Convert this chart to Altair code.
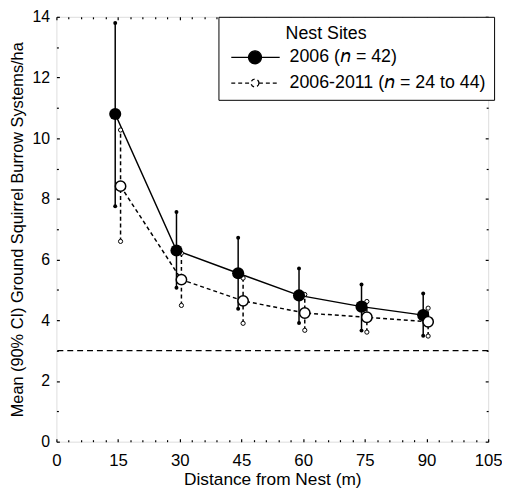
import altair as alt
import pandas as pd

# ---- data ----
x_2006 = [14.3, 29.2, 44.2, 59.0, 74.2, 89.2]
mean_2006 = [10.8, 6.3, 5.55, 4.82, 4.45, 4.17]
upper_2006 = [13.8, 7.57, 6.72, 5.71, 5.18, 4.88]
lower_2006 = [7.76, 5.07, 4.38, 3.91, 3.66, 3.49]

x_multi = [15.6, 30.4, 45.4, 60.4, 75.5, 90.4]
mean_multi = [8.42, 5.34, 4.64, 4.24, 4.10, 3.95]
upper_multi = [10.27, 6.21, 5.39, 4.85, 4.62, 4.40]
lower_multi = [6.60, 4.49, 3.90, 3.67, 3.61, 3.48]

reference_level = [3.0]

legend_title = "Nest Sites"
series_labels = ["2006 (\U0001D62F = 42)", "2006-2011 (\U0001D62F = 24 to 44)"]

x_major = [0, 15, 30, 45, 60, 75, 90, 105]
x_minor = [v for v in range(0, 106, 3) if v % 15 != 0]
y_major = [0, 2, 4, 6, 8, 10, 12, 14]
y_minor = [1, 3, 5, 7, 9, 11, 13]

FONT = "Liberation Sans"

df_a = pd.DataFrame({"x": x_2006, "m": mean_2006, "lo": lower_2006, "hi": upper_2006})
df_b = pd.DataFrame({"x": x_multi, "m": mean_multi, "lo": lower_multi, "hi": upper_multi})
df_ref = pd.DataFrame({"y": reference_level})
df_leg = pd.DataFrame({"series": series_labels})

xs = alt.Scale(domain=[0, 105], nice=False, zero=False)
ys = alt.Scale(domain=[0, 14], nice=False, zero=False)


def tick_axis(orient, values, size, labels=False, **kw):
    return alt.Axis(orient=orient, values=values, tickSize=size, offset=-size,
                    domain=False, grid=False, labels=labels, tickColor="black",
                    tickWidth=1.2, **kw)


common_lab = dict(labelFont=FONT, labelColor="black", titleFont=FONT, titleColor="black",
                  titleFontWeight="normal", labelFlush=False, labelOverlap=False)

ax_x_main = tick_axis("bottom", x_major, 3, labels=True, labelPadding=11, labelFontSize=17,
                      title="Distance from Nest (m)", titleFontSize=17.5, titlePadding=2,
                      **common_lab)
ax_x_minor = tick_axis("bottom", x_minor, 2, title=None)
ax_x_top = tick_axis("top", x_major, 3, title=None)
ax_x_top_minor = tick_axis("top", x_minor, 2, title=None)

ax_y_main = tick_axis("left", y_major, 3, labels=True, labelPadding=7, labelFontSize=16,
                      title="Mean (90% CI) Ground Squirrel Burrow Systems/ha",
                      titleFontSize=16.5, titlePadding=7, **common_lab)
ax_y_minor = tick_axis("left", y_minor, 2, title=None)
ax_y_right = tick_axis("right", y_major, 3, title=None)
ax_y_right_minor = tick_axis("right", y_minor, 2, title=None)

DASH = [4, 3]

ref_line = alt.Chart(df_ref).mark_rule(color="black", strokeWidth=1.3, strokeDash=[6, 4]).encode(
    y=alt.Y("y:Q", scale=ys, axis=None)
)

err_a = alt.Chart(df_a).mark_rule(color="black", strokeWidth=1.5).encode(
    x=alt.X("x:Q", scale=xs, axis=None),
    y=alt.Y("lo:Q", scale=ys, axis=None), y2="hi:Q")
err_b = alt.Chart(df_b).mark_rule(color="black", strokeWidth=1.5, strokeDash=DASH).encode(
    x=alt.X("x:Q", scale=xs, axis=None),
    y=alt.Y("lo:Q", scale=ys, axis=None), y2="hi:Q")

cap_a_lo = alt.Chart(df_a).mark_point(filled=True, color="black", size=16, opacity=1).encode(
    x=alt.X("x:Q", scale=xs, axis=None), y=alt.Y("lo:Q", scale=ys, axis=None))
cap_a_hi = alt.Chart(df_a).mark_point(filled=True, color="black", size=16, opacity=1).encode(
    x=alt.X("x:Q", scale=xs, axis=None), y=alt.Y("hi:Q", scale=ys, axis=None))
cap_b_lo = alt.Chart(df_b).mark_point(filled=True, fill="white", stroke="black", strokeWidth=1,
                                      size=18, opacity=1).encode(
    x=alt.X("x:Q", scale=xs, axis=None), y=alt.Y("lo:Q", scale=ys, axis=None))
cap_b_hi = alt.Chart(df_b).mark_point(filled=True, fill="white", stroke="black", strokeWidth=1,
                                      size=18, opacity=1).encode(
    x=alt.X("x:Q", scale=xs, axis=None), y=alt.Y("hi:Q", scale=ys, axis=None))

line_a = alt.Chart(df_a).mark_line(color="black", strokeWidth=1.5).encode(
    x=alt.X("x:Q", scale=xs, axis=ax_x_main),
    y=alt.Y("m:Q", scale=ys, axis=ax_y_main))
line_b = alt.Chart(df_b).mark_line(color="black", strokeWidth=1.5, strokeDash=DASH).encode(
    x=alt.X("x:Q", scale=xs, axis=ax_x_minor),
    y=alt.Y("m:Q", scale=ys, axis=ax_y_minor))

pts_a = alt.Chart(df_a).mark_point(filled=True, color="black", size=150, opacity=1).encode(
    x=alt.X("x:Q", scale=xs, axis=ax_x_top),
    y=alt.Y("m:Q", scale=ys, axis=ax_y_right))
pts_b = alt.Chart(df_b).mark_point(filled=True, fill="white", stroke="black", strokeWidth=1.5,
                                   size=110, opacity=1).encode(
    x=alt.X("x:Q", scale=xs, axis=ax_x_top_minor),
    y=alt.Y("m:Q", scale=ys, axis=ax_y_right_minor))

# legend glyphs: line segment with a marker, unit = 10 px (symbolSize 400)
path_filled = "M-0.6,0H4.3M2.45,0A0.65,0.65,0,1,1,1.15,0A0.65,0.65,0,1,1,2.45,0Z"
path_open = "M-0.6,0H1.4M2.2,0H4.3M2.2,0A0.4,0.4,0,1,1,1.4,0A0.4,0.4,0,1,1,2.2,0Z"

leg = alt.Legend(orient="none", legendX=164, legendY=0, strokeColor="black",
                 fillColor="white", padding=8, cornerRadius=0, titleFontSize=18,
                 labelFontSize=18, titleFont=FONT, labelFont=FONT, titleFontWeight="normal",
                 titleColor="black", labelColor="black", symbolSize=400,
                 symbolStrokeWidth=1.3, rowPadding=5, titlePadding=4, labelOffset=42,
                 labelLimit=400)

title_text = "\u200b" + "\u00a0" * 12 + legend_title

legend_layer = alt.Chart(df_leg).transform_filter("false").mark_point(
    filled=False, strokeWidth=1.3, opacity=1).encode(
    shape=alt.Shape("series:N", title=title_text, legend=leg,
                    scale=alt.Scale(domain=series_labels, range=[path_filled, path_open])),
    fill=alt.Fill("series:N", title=title_text, legend=leg,
                  scale=alt.Scale(domain=series_labels, range=["black", "white"])),
    stroke=alt.Stroke("series:N", title=title_text, legend=leg,
                      scale=alt.Scale(domain=series_labels, range=["black", "black"])),
    strokeDash=alt.StrokeDash("series:N", title=title_text, legend=leg,
                              scale=alt.Scale(domain=series_labels, range=[[1, 0], [4, 3]])),
)

chart = alt.layer(
    ref_line, err_a, err_b, line_a, line_b, cap_a_lo, cap_a_hi, cap_b_lo, cap_b_hi,
    pts_a, pts_b, legend_layer
).resolve_axis(x="independent", y="independent").properties(
    width=437, height=430,
    autosize=alt.AutoSizeParams(type="none"),
    padding={"left": 49, "top": 6, "right": 14, "bottom": 48},
).configure_view(stroke="black", strokeWidth=1.5).configure(font=FONT, background="white")

chart.save("out.html", embed_options={"renderer": "svg", "actions": False})
